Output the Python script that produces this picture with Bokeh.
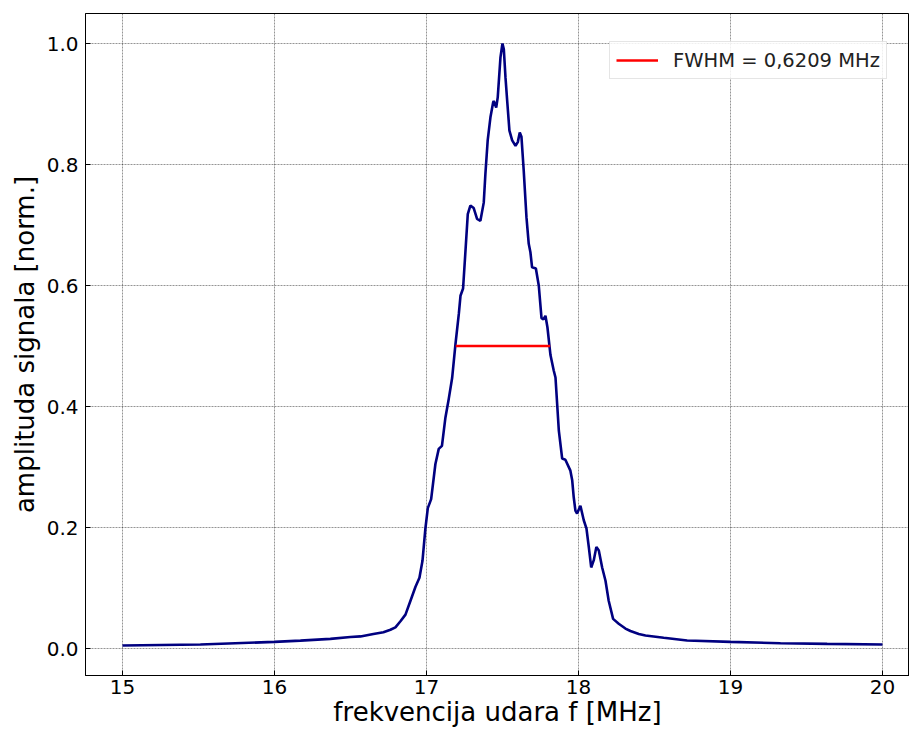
from bokeh.plotting import figure
from bokeh.models import Range1d, Legend, LegendItem, FixedTicker, PrintfTickFormatter
from bokeh.embed import file_html
from bokeh.resources import INLINE

# frequency [MHz] and normalised amplitude
freq = [15.000, 15.513, 16.000, 16.171, 16.368, 16.500, 16.566, 16.651, 16.717, 16.763,
        16.796, 16.829, 16.862, 16.895, 16.928, 16.954, 16.974, 16.993, 17.009, 17.031,
        17.059, 17.081, 17.102, 17.125, 17.147, 17.169, 17.191, 17.213, 17.224, 17.241,
        17.257, 17.272, 17.289, 17.311, 17.333, 17.355, 17.377, 17.388, 17.403, 17.421,
        17.439, 17.443, 17.459, 17.469, 17.487, 17.500, 17.509, 17.520, 17.531, 17.546,
        17.564, 17.586, 17.601, 17.614, 17.625, 17.640, 17.658, 17.673, 17.684, 17.695,
        17.720, 17.739, 17.757, 17.770, 17.783, 17.796, 17.816, 17.837, 17.849, 17.871,
        17.893, 17.914, 17.947, 17.959, 17.969, 17.980, 17.991, 18.013, 18.035, 18.053,
        18.068, 18.084, 18.101, 18.118, 18.134, 18.156, 18.178, 18.199, 18.228, 18.265,
        18.309, 18.342, 18.397, 18.441, 18.561, 18.715, 19.000, 19.329, 19.636, 20.000]
amp = [0.005, 0.0066, 0.011, 0.013, 0.016, 0.019, 0.020, 0.024, 0.027, 0.031,
       0.035, 0.045, 0.056, 0.079, 0.102, 0.117, 0.145, 0.198, 0.232, 0.247,
       0.305, 0.330, 0.335, 0.382, 0.413, 0.447, 0.503, 0.553, 0.583, 0.595,
       0.658, 0.718, 0.732, 0.728, 0.710, 0.707, 0.737, 0.785, 0.840, 0.878,
       0.903, 0.905, 0.894, 0.911, 0.977, 1.000, 0.991, 0.944, 0.906, 0.856,
       0.840, 0.831, 0.837, 0.853, 0.846, 0.790, 0.713, 0.669, 0.655, 0.630,
       0.628, 0.600, 0.546, 0.544, 0.550, 0.531, 0.485, 0.460, 0.448, 0.360,
       0.314, 0.312, 0.294, 0.278, 0.250, 0.228, 0.223, 0.236, 0.212, 0.198,
       0.168, 0.134, 0.146, 0.168, 0.162, 0.134, 0.112, 0.079, 0.049, 0.041,
       0.033, 0.029, 0.024, 0.0215, 0.0177, 0.0132, 0.011, 0.0088, 0.0077, 0.0066]

fwhm_x = [17.193, 17.814]
fwhm_y = [0.5, 0.5]
fwhm_label = "FWHM = 0,6209 MHz"

x_ticks = [15, 16, 17, 18, 19, 20]
y_ticks = [0.0, 0.2, 0.4, 0.6, 0.8, 1.0]

p = figure(width=909, height=731, output_backend="svg", toolbar_location=None,
           x_range=Range1d(14.757, 20.178), y_range=Range1d(-0.0446, 1.0496),
           min_border_left=85, min_border_right=0, min_border_top=13, min_border_bottom=56)

p.outline_line_color = "black"
p.outline_line_width = 1
p.background_fill_color = "white"
p.border_fill_color = "white"

for ax in (p.xaxis[0], p.yaxis[0]):
    ax.axis_line_color = "black"
    ax.major_tick_in = 5
    ax.major_tick_out = 0
    ax.minor_tick_line_color = None
    ax.major_tick_line_color = "black"
    ax.major_label_text_font = "DejaVu Sans"
    ax.major_label_text_font_size = "20px"
    ax.major_label_text_color = "black"
    ax.axis_label_text_font = "DejaVu Sans"
    ax.axis_label_text_font_size = "26px"
    ax.axis_label_text_font_style = "normal"
    ax.axis_label_text_color = "black"

p.xaxis.ticker = FixedTicker(ticks=x_ticks)
p.yaxis.ticker = FixedTicker(ticks=y_ticks)
p.yaxis.formatter = PrintfTickFormatter(format="%.1f")
p.xaxis.major_label_standoff = 4
p.yaxis.major_label_standoff = 7
p.xaxis.axis_label = "frekvencija udara f [MHz]"
p.yaxis.axis_label = "amplituda signala [norm.]"
p.xaxis.axis_label_standoff = 0
p.yaxis.axis_label_standoff = 4

p.grid.grid_line_color = "black"
p.grid.grid_line_alpha = 0.7
p.grid.grid_line_width = 0.6
p.grid.grid_line_dash = "2 1"

p.line(freq, amp, line_color="#000080", line_width=2.6)
r = p.line(fwhm_x, fwhm_y, line_color="red", line_width=2.4)

legend = Legend(items=[LegendItem(label=fwhm_label, renderers=[r])],
                location=(524, 596))
legend.label_text_font = "DejaVu Sans"
legend.label_text_font_size = "19.5px"
legend.label_text_color = "#222222"
legend.glyph_width = 42
legend.glyph_height = 24
legend.label_standoff = 15
legend.padding = 6
legend.margin = 0
legend.spacing = 0
legend.border_line_color = "#cccccc"
legend.border_line_width = 1
legend.background_fill_color = "white"
legend.background_fill_alpha = 0.85
p.add_layout(legend, "center")

open("out.html", "w").write(file_html(p, INLINE))
